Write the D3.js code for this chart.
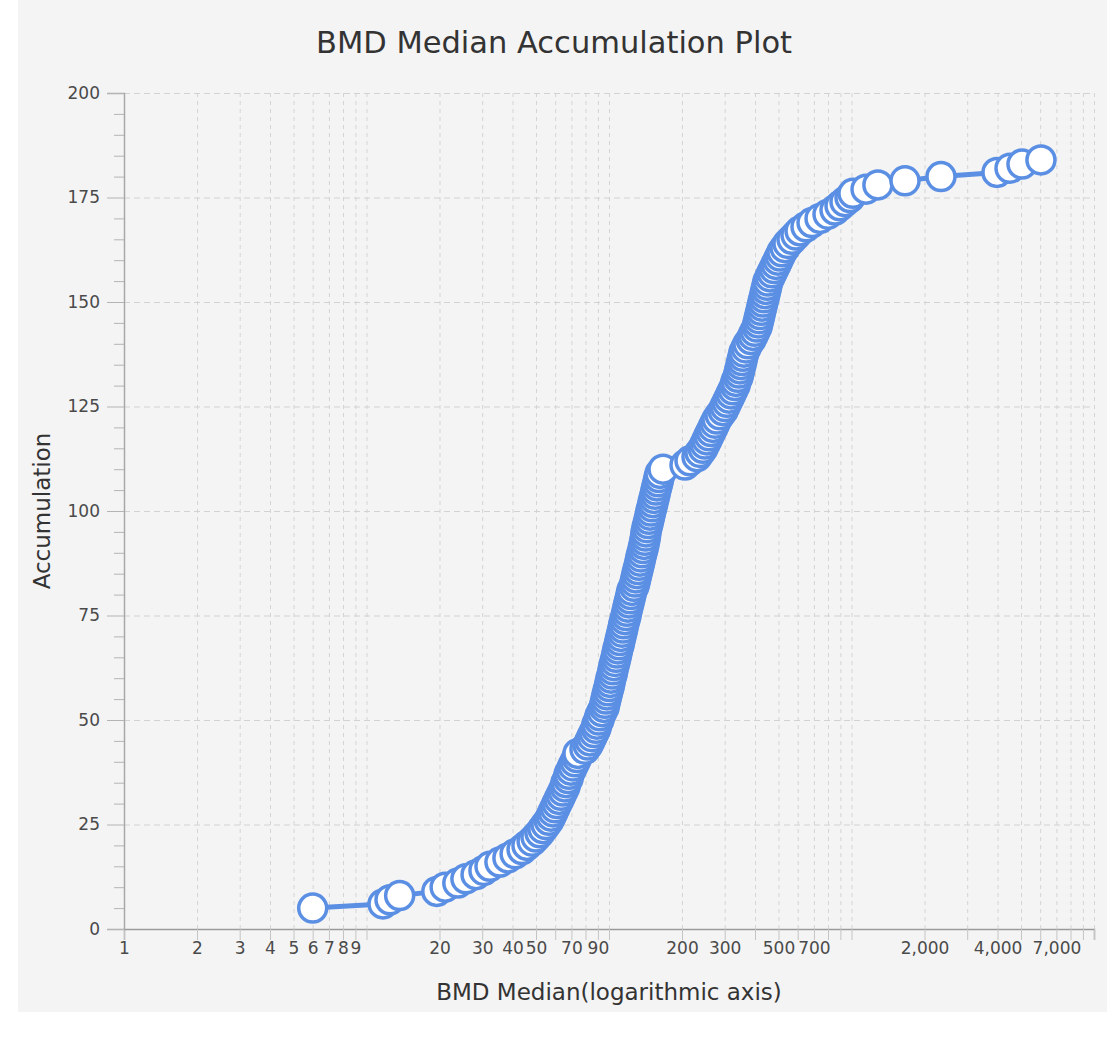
<!DOCTYPE html>
<html>
<head>
<meta charset="utf-8">
<script src="https://cdn.jsdelivr.net/npm/d3@7"></script>
<style>
  body { margin: 0; background: #fff; }
  svg { display: block; font-family: "DejaVu Sans", sans-serif; }
</style>
</head>
<body>
<div id="chart"></div>
<script>
// BMD median values (x) and the running count (y)
let bmdMedian = [
  6.0, 11.7, 12.5, 13.7, 19.5, 21.1, 23.8, 25.7, 28.3, 30.5,
  32.3, 35.5, 38.3, 41.0, 43.8, 45.9, 48.2, 50.0, 51.9, 53.4,
  55.0, 56.6, 57.7, 58.8, 59.9, 61.0, 62.2, 63.4, 64.6, 65.8,
  66.5, 67.8, 68.4, 69.7, 71.0, 72.4, 73.8, 74.5, 79.6, 81.9,
  83.5, 85.1, 86.7, 88.4, 89.2, 90.9, 91.8, 93.6, 95.4, 96.3,
  97.2, 98.1, 99.1, 100.2, 101.0, 101.9, 103.1, 103.9, 104.8, 105.9,
  107.0, 107.9, 108.8, 110.1, 111.0, 112.0, 113.2, 114.2, 115.1, 116.4,
  117.6, 118.6, 119.7, 120.9, 122.1, 123.2, 124.3, 126.8, 128.1, 129.2,
  130.4, 131.7, 133.1, 134.3, 135.4, 136.8, 138.2, 139.4, 140.6, 141.5,
  142.2, 143.4, 144.9, 146.3, 147.6, 148.9, 150.5, 151.8, 153.3, 154.9,
  156.2, 157.8, 159.4, 160.7, 162.4, 167.1, 205.8, 215.8, 230.6, 237.3,
  244.1, 248.8, 253.6, 258.4, 263.4, 268.5, 273.6, 278.9, 286.9, 295.3,
  300.9, 306.7, 312.6, 318.6, 324.6, 330.8, 334.0, 340.4, 343.6, 346.9,
  350.2, 353.5, 356.9, 360.3, 367.3, 374.3, 385.1, 392.5, 400.1, 407.8,
  411.7, 415.7, 419.6, 423.6, 427.7, 431.7, 435.9, 440.0, 444.2, 448.4,
  452.7, 461.3, 470.2, 479.2, 488.4, 497.7, 507.3, 517.0, 531.9, 547.2,
  568.4, 590.5, 613.4, 649.3, 687.4, 741.8, 800.1, 855.1, 896.6, 940.1,
  986, 1014, 1148, 1285, 1662, 2339, 3981, 4505, 5047, 6043
];
let accumulation = [
  5, 6, 7, 8, 9, 10, 11, 12, 13, 14,
  15, 16, 17, 18, 19, 20, 21, 22, 23, 24,
  25, 26, 27, 28, 29, 30, 31, 32, 33, 34,
  35, 36, 37, 38, 39, 40, 41, 42, 43, 44,
  45, 46, 47, 48, 49, 50, 51, 52, 53, 54,
  55, 56, 57, 58, 59, 60, 61, 62, 63, 64,
  65, 66, 67, 68, 69, 70, 71, 72, 73, 74,
  75, 76, 77, 78, 79, 80, 81, 82, 83, 84,
  85, 86, 87, 88, 89, 90, 91, 92, 93, 94,
  95, 96, 97, 98, 99, 100, 101, 102, 103, 104,
  105, 106, 107, 108, 109, 110, 111, 112, 113, 114,
  115, 116, 117, 118, 119, 120, 121, 122, 123, 124,
  125, 126, 127, 128, 129, 130, 131, 132, 133, 134,
  135, 136, 137, 138, 139, 140, 141, 142, 143, 144,
  145, 146, 147, 148, 149, 150, 151, 152, 153, 154,
  155, 156, 157, 158, 159, 160, 161, 162, 163, 164,
  165, 166, 167, 168, 169, 170, 171, 172, 173, 174,
  175, 176, 177, 178, 179, 180, 181, 182, 183, 184
];

// tick values
let xGridValues = [
  1, 2, 3, 4, 5, 6, 7, 8, 9,
  10, 20, 30, 40, 50, 60, 70, 80, 90,
  100, 200, 300, 400, 500, 600, 700, 800, 900,
  1000, 2000, 3000, 4000, 5000, 6000, 7000, 8000, 9000, 10000
];
let xTickLabels = [1, 2, 3, 4, 5, 6, 7, 8, 9, 20, 30, 40, 50, 70, 90, 200, 300, 500, 700, 2000, 4000, 7000];
let yTickValues = [0, 25, 50, 75, 100, 125, 150, 175, 200];
let yMinorValues = d3.range(0, 201, 5).filter(v => v % 25 !== 0);

let data = bmdMedian.map((v, i) => ({bmd: v, acc: accumulation[i]}));

let width = 1114;
let height = 1039;
let margin = {top: 93, right: 20, bottom: 110, left: 124};
let blue = '#5b8fe4';

let x = d3.scaleLog()
  .domain([1, 10000])
  .range([margin.left, width - margin.right]);

let y = d3.scaleLinear()
  .domain([0, 200])
  .range([height - margin.bottom, margin.top]);

let labelSet = new Set(xTickLabels);
let fmt = d3.format(',');

const svg = d3.select('#chart').append('svg')
  .attr('width', width)
  .attr('height', height);

// panel background
svg.append('rect')
  .attr('x', 18).attr('y', 0)
  .attr('width', 1089).attr('height', 1012)
  .attr('fill', '#f4f4f4');

// vertical grid
svg.append('g')
  .attr('transform', `translate(0, ${height - margin.bottom})`)
  .call(d3.axisBottom(x).tickValues(xGridValues).tickSize(-(y(0) - y(200))).tickFormat(''))
  .call(g => g.select('.domain').remove())
  .call(g => g.selectAll('.tick line')
    .attr('stroke', '#d4d4d4')
    .attr('stroke-dasharray', '4,4'));

// horizontal grid
svg.append('g')
  .attr('transform', `translate(${margin.left}, 0)`)
  .call(d3.axisLeft(y).tickValues(yTickValues).tickSize(-(x(10000) - x(1))).tickFormat(''))
  .call(g => g.select('.domain').remove())
  .call(g => g.selectAll('.tick line')
    .attr('stroke', '#d2d2d2')
    .attr('stroke-dasharray', '6,4'));

// x axis
svg.append('g')
  .attr('transform', `translate(0, ${height - margin.bottom})`)
  .call(d3.axisBottom(x).tickValues(xGridValues).tickSize(11).tickPadding(2)
    .tickFormat(d => labelSet.has(d) ? fmt(d) : ''))
  .call(g => g.select('.domain').attr('stroke', '#9a9a9a').attr('stroke-width', 1.5))
  .call(g => g.selectAll('.tick line').attr('stroke', '#c4c4c4'))
  .call(g => g.selectAll('.tick text')
    .attr('fill', '#4a4a4a')
    .attr('font-size', 17)
    .attr('font-family', '"DejaVu Sans", sans-serif'));

// y axis, minor ticks first
svg.append('g')
  .attr('transform', `translate(${margin.left}, 0)`)
  .call(d3.axisLeft(y).tickValues(yMinorValues).tickSize(10).tickFormat(''))
  .call(g => g.select('.domain').remove())
  .call(g => g.selectAll('.tick line').attr('stroke', '#b4b4b4'));

svg.append('g')
  .attr('transform', `translate(${margin.left}, 0)`)
  .call(d3.axisLeft(y).tickValues(yTickValues).tickSize(17).tickPadding(7))
  .call(g => g.select('.domain').attr('stroke', '#a8a8a8').attr('stroke-width', 1.5))
  .call(g => g.selectAll('.tick line').attr('stroke', '#b4b4b4'))
  .call(g => g.selectAll('.tick text')
    .attr('fill', '#4a4a4a')
    .attr('font-size', 17)
    .attr('font-family', '"DejaVu Sans", sans-serif'));

// line + markers
let line = d3.line()
  .x(d => x(d.bmd))
  .y(d => y(d.acc));

svg.append('path')
  .datum(data)
  .attr('fill', 'none')
  .attr('stroke', blue)
  .attr('stroke-width', 5)
  .attr('stroke-linejoin', 'round')
  .attr('d', line);

svg.append('g')
  .selectAll('circle')
  .data(data)
  .join('circle')
  .attr('cx', d => x(d.bmd))
  .attr('cy', d => y(d.acc))
  .attr('r', 14)
  .attr('fill', '#fff')
  .attr('stroke', blue)
  .attr('stroke-width', 3.5);

// titles
svg.append('text')
  .attr('x', 554)
  .attr('y', 53)
  .attr('text-anchor', 'middle')
  .attr('font-size', 30.5)
  .attr('fill', '#333')
  .text('BMD Median Accumulation Plot');

svg.append('text')
  .attr('x', (x(1) + x(10000)) / 2)
  .attr('y', 1000)
  .attr('text-anchor', 'middle')
  .attr('font-size', 23)
  .attr('fill', '#333')
  .text('BMD Median(logarithmic axis)');

svg.append('text')
  .attr('transform', `translate(50, ${(y(0) + y(200)) / 2}) rotate(-90)`)
  .attr('text-anchor', 'middle')
  .attr('font-size', 23)
  .attr('fill', '#333')
  .text('Accumulation');
</script>
</body>
</html>
